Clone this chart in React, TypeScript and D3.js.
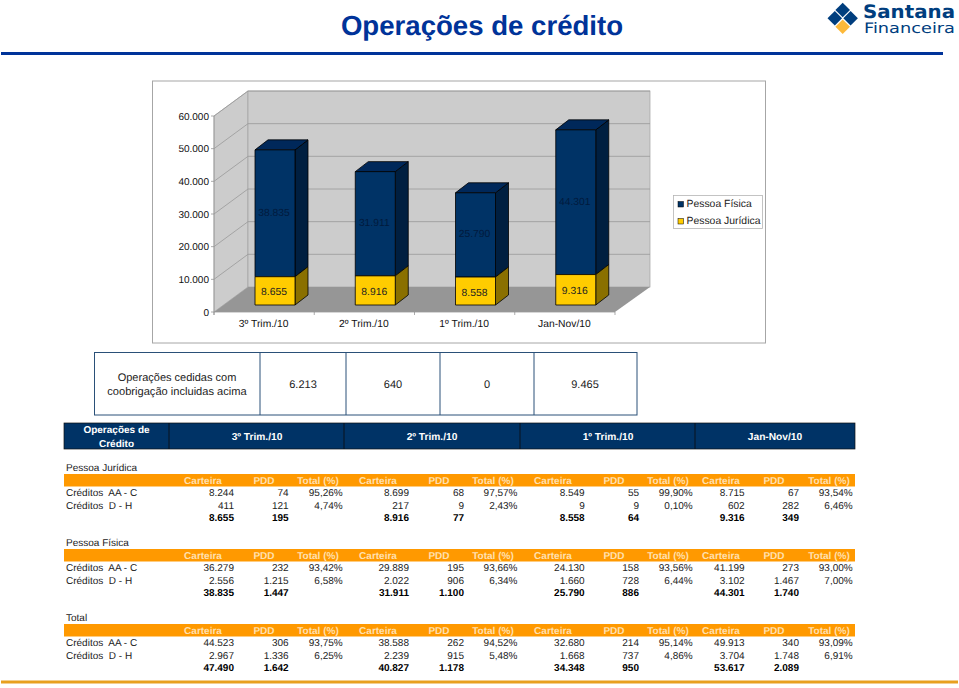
import React from "react";
import * as d3 from "d3";

const categories = ["3º Trim./10", "2º Trim./10", "1º Trim./10", "Jan-Nov/10"];
const pessoaFisica = [38835, 31911, 25790, 44301];
const pessoaJuridica = [8655, 8916, 8558, 9316];
const yTicks = [0, 10000, 20000, 30000, 40000, 50000, 60000];
const cedidas = ["6.213", "640", "0", "9.465"];
const subHeaders = ["Carteira", "PDD", "Total (%)"];
const rowLabels = ["Créditos  AA - C", "Créditos  D - H"];

const juridicaRows = [
  ["8.244", "74", "95,26%", "8.699", "68", "97,57%", "8.549", "55", "99,90%", "8.715", "67", "93,54%"],
  ["411", "121", "4,74%", "217", "9", "2,43%", "9", "9", "0,10%", "602", "282", "6,46%"],
  ["8.655", "195", "", "8.916", "77", "", "8.558", "64", "", "9.316", "349", ""],
];
const fisicaRows = [
  ["36.279", "232", "93,42%", "29.889", "195", "93,66%", "24.130", "158", "93,56%", "41.199", "273", "93,00%"],
  ["2.556", "1.215", "6,58%", "2.022", "906", "6,34%", "1.660", "728", "6,44%", "3.102", "1.467", "7,00%"],
  ["38.835", "1.447", "", "31.911", "1.100", "", "25.790", "886", "", "44.301", "1.740", ""],
];
const totalRows = [
  ["44.523", "306", "93,75%", "38.588", "262", "94,52%", "32.680", "214", "95,14%", "49.913", "340", "93,09%"],
  ["2.967", "1.336", "6,25%", "2.239", "915", "5,48%", "1.668", "737", "4,86%", "3.704", "1.748", "6,91%"],
  ["47.490", "1.642", "", "40.827", "1.178", "", "34.348", "950", "", "53.617", "2.089", ""],
];
const sections = [
  { title: "Pessoa Jurídica", rows: juridicaRows },
  { title: "Pessoa Física", rows: fisicaRows },
  { title: "Total", rows: totalRows },
];

const FONT = "'Liberation Sans', Arial, sans-serif";
const NAVY = "#003366";
const ORANGE = "#ff9900";
const sectionTops = [474, 549, 624];
const valueRights = [234, 288.7, 342.7, 409, 464, 517.5, 584.7, 639, 692.7, 744.7, 799, 852.7];
const headerCenters = [203, 264, 318, 378, 439, 493, 553, 614, 668, 721, 774, 829];

const x = d3.scaleBand<string>().domain(categories).range([214, 615]);
const y = d3.scaleLinear().domain([0, 60000]).range([312, 116]);
const fmt = (v: number) => (v === 0 ? "0" : d3.format(",")(v).replace(",", "."));

const DX = 34, DY = -25;
const BAR_DX = 41, BAR_DY = -7, BAR_W = 40, D_X = 13, D_Y = -10;

function Bar3D({ x0, y0, y1, front, side, top }: any) {
  const x1 = x0 + BAR_W;
  return (
    <g stroke="#000" strokeWidth={0.8} strokeLinejoin="round">
      <path fill={side} d={`M${x1},${y0}L${x1 + D_X},${y0 + D_Y}L${x1 + D_X},${y1 + D_Y}L${x1},${y1}Z`} />
      {top && <path fill={top} d={`M${x0},${y1}L${x0 + D_X},${y1 + D_Y}L${x1 + D_X},${y1 + D_Y}L${x1},${y1}Z`} />}
      <rect x={x0} y={y1} width={BAR_W} height={y0 - y1} fill={front} />
    </g>
  );
}

export default function App() {
  const [xl, xr] = x.range();
  const y0 = y(0);
  const yTop = y(60000);
  const bx = (c: string) => (x(c) as number) + BAR_DX;
  return (
    <svg
      width={959}
      height={688}
      viewBox="0 0 959 688"
      style={{ position: "absolute", left: 0, top: 0, background: "#fff" }}
      fontFamily={FONT}
      textRendering="geometricPrecision"
    >
      <text x={482} y={34.5} textAnchor="middle" fontSize={27.6} fontWeight="bold" fill="#003399">
        Operações de crédito
      </text>
      <rect x={1} y={52} width={942} height={3} fill="#003399" />
      {/* logo */}
      <g>
        {[
          [842.7, 10, "#003e7e"],
          [834.8, 18.3, "#003e7e"],
          [850.6, 18.3, "#003e7e"],
          [842.7, 26.7, "#fdb93a"],
        ].map(([cx, cy, c], i) => (
          <path
            key={i}
            fill={c as string}
            d={`M${cx},${(cy as number) - 7.3}L${(cx as number) + 7.3},${cy}L${cx},${(cy as number) + 7.3}L${(cx as number) - 7.3},${cy}Z`}
          />
        ))}
        <text x={863} y={17.8} fontFamily="'DejaVu Sans'" fontWeight="bold" fontSize={18.5} fill="#003e7e" textLength={92} lengthAdjust="spacingAndGlyphs">
          Santana
        </text>
        <text x={864} y={33} fontFamily="'DejaVu Sans'" fontSize={14.5} fill="#003e7e" textLength={91} lengthAdjust="spacingAndGlyphs">
          Financeira
        </text>
      </g>

      {/* chart frame */}
      <rect x={152.5} y={81} width={613} height={262} fill="#fff" stroke="#a6a6a6" strokeWidth={1} />
      <path fill="#cccccc" d={`M${xl},${y0}L${xl + DX},${y0 + DY}L${xl + DX},${yTop + DY}L${xl},${yTop}Z`} stroke="#a0a0a0" strokeWidth={0.7} />
      <rect x={xl + DX} y={yTop + DY} width={xr - xl + 1} height={y0 - yTop} fill="#cccccc" stroke="#a0a0a0" strokeWidth={0.7} />
      <path fill="#969696" d={`M${xl},${y0}L${xr},${y0}L${xr + DX + 1},${y0 + DY}L${xl + DX},${y0 + DY}Z`} />
      {yTicks.map((t) => (
        <g key={t}>
          {t > 0 && (
            <path
              fill="none"
              stroke="#999999"
              strokeWidth={0.8}
              d={`M${xl},${y(t)}L${xl + DX},${y(t) + DY}L${xr + DX + 1},${y(t) + DY}`}
            />
          )}
          <line x1={xl - 3} x2={xl} y1={y(t)} y2={y(t)} stroke="#888" strokeWidth={0.7} />
          <text x={209} y={y(t) + 3.6} textAnchor="end" fontSize={10} fill="#111">
            {fmt(t)}
          </text>
        </g>
      ))}
      <line x1={xl} x2={xl} y1={yTop} y2={y0 + 3} stroke="#999" strokeWidth={0.8} />
      <line x1={xl} x2={xr} y1={y0} y2={y0} stroke="#999" strokeWidth={0.8} />
      {categories.map((c, i) => (
        <g key={c}>
          <line x1={x(c)} x2={x(c)} y1={y0} y2={y0 + 3} stroke="#888" strokeWidth={0.7} />
          {i === 3 && <line x1={xr} x2={xr} y1={y0} y2={y0 + 3} stroke="#888" strokeWidth={0.7} />}
          <text x={(x(c) as number) + x.bandwidth() / 2 - 0.5} y={327} textAnchor="middle" fontSize={10.3} fill="#111">
            {c}
          </text>
        </g>
      ))}

      {/* bars */}
      {categories.map((c, i) => {
        const b = y(0) + BAR_DY;
        const j = y(pessoaJuridica[i]) + BAR_DY;
        const f = y(pessoaJuridica[i] + pessoaFisica[i]) + BAR_DY;
        return (
          <g key={c}>
            <Bar3D x0={bx(c)} y0={j} y1={f} front={NAVY} side="#001f40" top="#00285a" />
            <Bar3D x0={bx(c)} y0={b} y1={j} front="#ffcc00" side="#8a7000" />
            <text x={bx(c) + 19} y={(j + f) / 2 + 2.5} textAnchor="middle" fontSize={10.3} fill="#001a3d">
              {fmt(pessoaFisica[i])}
            </text>
            <text x={bx(c) + 19} y={(b + j) / 2 + 4.5} textAnchor="middle" fontSize={10.3} fill="#222">
              {fmt(pessoaJuridica[i])}
            </text>
          </g>
        );
      })}

      {/* legend */}
      <rect x={673.5} y={195.5} width={89} height={33} fill="#fff" stroke="#b5b5b5" strokeWidth={0.8} />
      <rect x={678} y={201.5} width={5.5} height={5.5} fill={NAVY} stroke="#000" strokeWidth={0.5} />
      <rect x={678} y={218.5} width={5.5} height={5.5} fill="#ffcc00" stroke="#000" strokeWidth={0.5} />
      <text x={686.5} y={207} fontSize={10.4} fill="#222">Pessoa Física</text>
      <text x={686.5} y={224} fontSize={10.4} fill="#222">Pessoa Jurídica</text>

      {/* cedidas box */}
      <g stroke="#2a5078" strokeWidth={1} fill="none">
        <rect x={94.5} y={352.5} width={542.5} height={62.5} />
        {[260, 346, 440, 534].map((d) => (
          <line key={d} x1={d} x2={d} y1={352.5} y2={415} />
        ))}
      </g>
      <text x={177} y={381} textAnchor="middle" fontSize={11} fill="#222">Operações cedidas com</text>
      <text x={177} y={394.5} textAnchor="middle" fontSize={11.1} fill="#222">coobrigação incluidas acima</text>
      {cedidas.map((v, i) => (
        <text key={i} x={[303, 393, 487, 585][i]} y={388} textAnchor="middle" fontSize={11} fill="#222">
          {v}
        </text>
      ))}

      {/* dark header */}
      <rect x={64} y={423} width={791} height={26} fill={NAVY} stroke="#111" strokeWidth={0.7} />
      {[169, 344, 520, 695].map((d) => (
        <line key={d} x1={d} x2={d} y1={423} y2={449} stroke="#0a0a0a" strokeWidth={0.8} />
      ))}
      <text x={116.5} y={433} textAnchor="middle" fontSize={10} fontWeight="bold" fill="#fff">Operações de</text>
      <text x={116.5} y={447} textAnchor="middle" fontSize={10} fontWeight="bold" fill="#fff">Crédito</text>
      {categories.map((c, i) => (
        <text key={c} x={[257, 432, 608, 775][i]} y={439.5} textAnchor="middle" fontSize={10.2} fontWeight="bold" fill="#fff">
          {c}
        </text>
      ))}

      {/* sections */}
      {sections.map((s, si) => {
        const top = sectionTops[si];
        return (
          <g key={s.title}>
            <text x={66} y={top - 3.5} fontSize={10} fill="#222">{s.title}</text>
            <rect x={64} y={top} width={791} height={12.5} fill={ORANGE} />
            {headerCenters.map((h, i) => (
              <text key={i} x={h} y={top + 10} textAnchor="middle" fontSize={10} fontWeight="bold" fill="#ffe0b0">
                {subHeaders[i % 3]}
              </text>
            ))}
            {rowLabels.map((l, ri) => (
              <text key={l} x={66} y={top + 22 + ri * 12.5} fontSize={10} fill="#222" style={{ whiteSpace: "pre" }}>
                {l}
              </text>
            ))}
            {s.rows.map((row, ri) =>
              row.map((v, ci) => (
                <text
                  key={ci + "-" + ri}
                  x={valueRights[ci]}
                  y={top + 22 + ri * 12.5}
                  textAnchor="end"
                  fontSize={10}
                  fontWeight={ri === 2 ? "bold" : "normal"}
                  fill={ri === 2 ? "#000" : "#222"}
                >
                  {v}
                </text>
              ))
            )}
          </g>
        );
      })}
      <rect x={1} y={680.5} width={957} height={3} fill="#e8a020" />
    </svg>
  );
}
